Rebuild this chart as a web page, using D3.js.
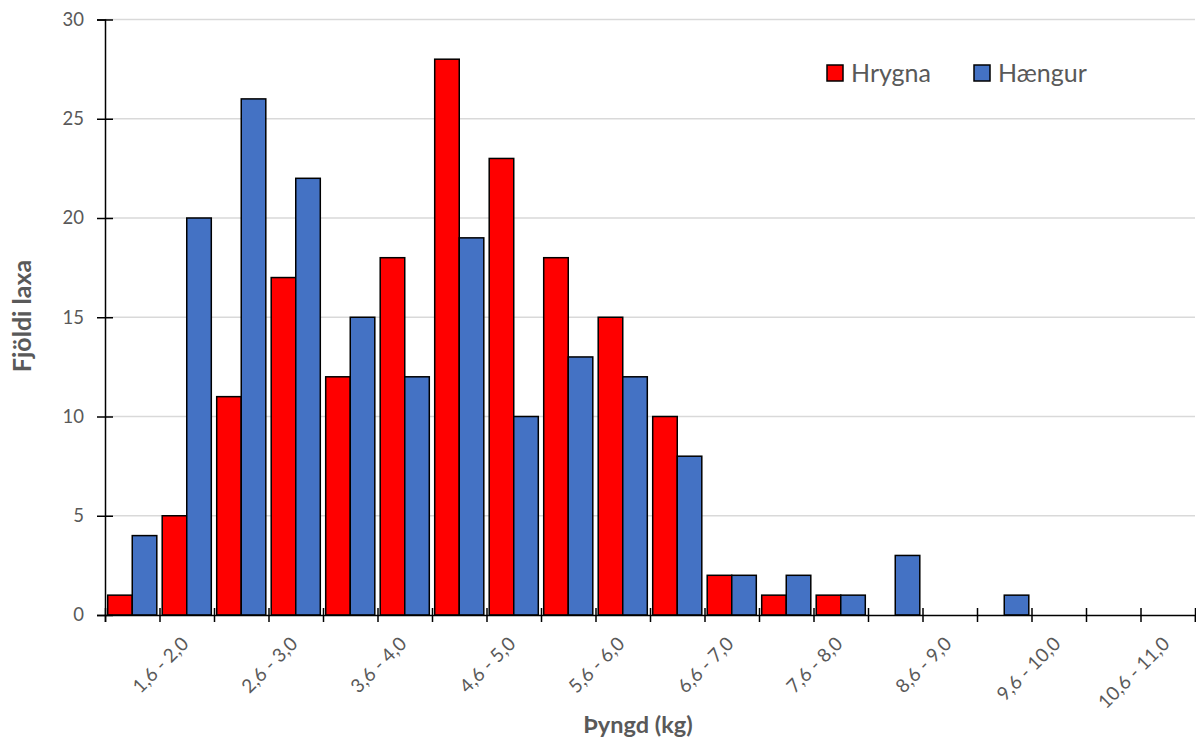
<!DOCTYPE html>
<html>
<head>
<meta charset="utf-8">
<script src="https://cdn.jsdelivr.net/npm/d3@7"></script>
<style>
  html, body { margin: 0; padding: 0; background: #fff; }
  svg { display: block; font-family: Lato, "Open Sans", sans-serif; }
</style>
</head>
<body>
<svg id="chart" width="1196" height="740"></svg>
<script>
// Weight classes (kg), 0.5 kg bins
const categories = [
  "1,1 - 1,5", "1,6 - 2,0", "2,1 - 2,5", "2,6 - 3,0", "3,1 - 3,5",
  "3,6 - 4,0", "4,1 - 4,5", "4,6 - 5,0", "5,1 - 5,5", "5,6 - 6,0",
  "6,1 - 6,5", "6,6 - 7,0", "7,1 - 7,5", "7,6 - 8,0", "8,1 - 8,5",
  "8,6 - 9,0", "9,1 - 9,5", "9,6 - 10,0", "10,1 - 10,5", "10,6 - 11,0"
];
// Number of fish per weight class
const hrygna  = [1, 5, 11, 17, 12, 18, 28, 23, 18, 15, 10, 2, 1, 1, 0, 0, 0, 0, 0, 0];
const haengur = [4, 20, 26, 22, 15, 12, 19, 10, 13, 12, 8, 2, 2, 1, 3, 0, 1, 0, 0, 0];
const seriesNames = ["Hrygna", "Hængur"];
const seriesColors = ["#ff0000", "#4472c4"];
const yTicks = [0, 5, 10, 15, 20, 25, 30];

const svg = d3.select("#chart");
const plotLeft = 105, plotRight = 1195, plotTop = 19.5, plotBottom = 615;
const textColor = "#595959";

const x = d3.scaleBand().domain(categories).range([plotLeft, plotRight]).padding(0);
const xs = d3.scaleBand().domain(seriesNames).range([0, x.bandwidth()])
  .paddingInner(0).paddingOuter(0.11);
const y = d3.scaleLinear().domain([0, 30]).range([plotBottom, plotTop]);

// Horizontal gridlines
svg.append("g").selectAll("line").data(yTicks.filter(d => d > 0)).join("line")
  .attr("x1", plotLeft).attr("x2", plotRight)
  .attr("y1", d => y(d)).attr("y2", d => y(d))
  .attr("stroke", "#d9d9d9").attr("stroke-width", 1.5);

// Bars
const rows = categories.map((c, i) => ({ c, values: [hrygna[i], haengur[i]] }));
const groups = svg.append("g").selectAll("g").data(rows).join("g")
  .attr("transform", d => `translate(${x(d.c)},0)`);
groups.selectAll("rect")
  .data(d => d.values.map((v, k) => ({ v, k })).filter(e => e.v > 0))
  .join("rect")
  .attr("x", e => xs(seriesNames[e.k]))
  .attr("width", xs.bandwidth())
  .attr("y", e => y(e.v))
  .attr("height", e => y(0) - y(e.v))
  .attr("fill", e => seriesColors[e.k])
  .attr("stroke", "#000").attr("stroke-width", 1.5);

// Y axis
const yAxis = svg.append("g").attr("transform", `translate(${plotLeft},0)`)
  .call(d3.axisLeft(y).tickValues(yTicks).tickSize(8).tickPadding(13));
yAxis.select(".domain").attr("stroke", "#000").attr("stroke-width", 1.5);
yAxis.selectAll(".tick line").attr("x1", -8).attr("x2", 8)
  .attr("stroke", "#000").attr("stroke-width", 1.5);
yAxis.selectAll(".tick text").attr("fill", textColor)
  .style("font-size", "18.5px").style("font-family", "Lato, sans-serif");

// X axis: ticks at category boundaries
const xb = d3.scaleLinear().domain([0, categories.length]).range([plotLeft, plotRight]);
const xAxis = svg.append("g").attr("transform", `translate(0,${plotBottom})`)
  .call(d3.axisBottom(xb).tickValues(d3.range(categories.length + 1))
    .tickSize(7).tickFormat(""));
xAxis.select(".domain").attr("stroke", "#000").attr("stroke-width", 1.5);
xAxis.selectAll(".tick line").attr("y1", -7).attr("y2", 7)
  .attr("stroke", "#000").attr("stroke-width", 1.5);

// Category labels, every other class
svg.append("g").selectAll("text")
  .data(categories.filter((c, i) => i % 2 === 1)).join("text")
  .attr("transform", c => `translate(${x(c) + x.bandwidth() / 2 + 3},${plotBottom + 30}) rotate(-45)`)
  .attr("text-anchor", "end")
  .attr("fill", textColor)
  .style("font-size", "19px")
  .text(c => c);

// Axis titles
svg.append("text")
  .attr("x", 638).attr("y", 733)
  .attr("text-anchor", "middle").attr("fill", textColor)
  .style("font-size", "23.5px").style("font-weight", "bold")
  .text("Þyngd (kg)");
svg.append("text")
  .attr("transform", "translate(31,316) rotate(-90)")
  .attr("text-anchor", "middle").attr("fill", textColor)
  .style("font-size", "25px").style("font-weight", "bold")
  .text("Fjöldi laxa");

// Legend
const legendX = [827, 974];
const legend = svg.append("g").selectAll("g").data(seriesNames).join("g")
  .attr("transform", (d, i) => `translate(${legendX[i]},65)`);
legend.append("rect")
  .attr("width", 16).attr("height", 16)
  .attr("fill", (d, i) => seriesColors[i])
  .attr("stroke", "#000").attr("stroke-width", 1.5);
legend.append("text")
  .attr("x", 24).attr("y", 17)
  .attr("fill", textColor)
  .style("font-size", "25px")
  .text(d => d);
</script>
</body>
</html>
